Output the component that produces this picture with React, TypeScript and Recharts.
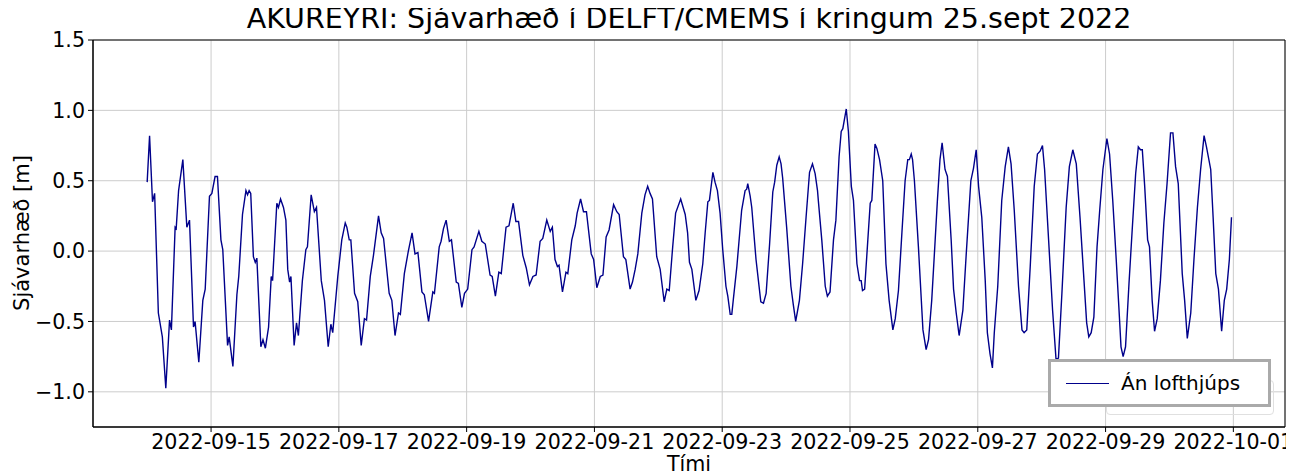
import React from 'react';
import { LineChart, Line, CartesianGrid, XAxis, YAxis, ReferenceArea } from 'recharts';

// hours since 2022-09-14 00:00 UTC
const hours = [
  0, 0.9, 2, 2.8, 4.2, 5.7, 7, 8.4, 9.1, 10.5, 10.9, 11.8, 13.4, 14.9, 15.9, 17.4, 18, 19.4, 20.9, 21.8,
  23.4, 24.3, 25.5, 26.4, 27.7, 28.4, 30.2, 30.8, 32.2, 33.7, 34.4, 35.8, 37.1, 37.7, 38.3, 38.9, 39.9, 40.6, 41.2, 42.7,
  43.5, 44.4, 45.6, 46.6, 47.1, 48.7, 49.3, 50.1, 51.2, 52.1, 52.8, 53.5, 54, 55.2, 56.1, 56.8, 58.3, 59.6, 60.2, 61.6,
  62.8, 63.6, 65.4, 66.6, 68, 69, 69.7, 71.6, 73.1, 74.4, 75, 75.9, 76.5, 77.9, 79.1, 80.4, 81.6, 82.4, 83.8, 85,
  86.9, 87.9, 88.8, 90.9, 91.9, 93.1, 94.4, 95.1, 96.6, 98.1, 99.5, 100.6, 101.7, 103.2, 104.1, 105.7, 107.3, 107.9, 109.7, 110.4,
  111.3, 112.3, 113.5, 114.3, 116.1, 116.9, 118.2, 119.2, 120.4, 122, 122.8, 124.6, 125.7, 127, 128.8, 129.6, 130.8, 132.1, 133, 134.8,
  135.9, 137.5, 138.5, 139.5, 141.1, 142.4, 143.6, 144.9, 146.1, 147.6, 148.6, 150.1, 151.4, 152.2, 153.2, 154.1, 154.7, 156, 157.3, 158,
  159.5, 160.8, 161.5, 162.8, 163.9, 165, 166.8, 167.7, 168.9, 170.2, 171.2, 172.4, 173.5, 175.2, 176.4, 177.3, 178.9, 179.8, 181.4, 182.3,
  183.3, 184.3, 185.8, 187, 188, 188.9, 189.8, 191.4, 192.7, 194.2, 195.2, 196.1, 197.4, 198.5, 200.4, 202.1, 203, 203.7, 204.6, 206.1,
  207.3, 208.7, 209.6, 210.6, 211.2, 212.5, 213.3, 214.2, 215.2, 216.2, 217.4, 218.1, 219, 219.6, 220.2, 221.5, 223.3, 224.6, 225.2, 225.6,
  226.5, 227.1, 228.7, 229.6, 230.5, 231.5, 232.5, 233.8, 235, 235.7, 236.5, 237.4, 238.1, 238.7, 240.2, 241.8, 242.7, 243.6, 245, 246.2,
  247.5, 248.8, 249.9, 250.9, 251.8, 252.1, 253.4, 254.7, 255.5, 256.5, 257.8, 258.7, 259.9, 260.7, 261.3, 262.6, 263.4, 264.5, 265.3, 266.6,
  267.6, 268.2, 268.7, 269.5, 270.7, 271.6, 272.2, 273.4, 274.1, 275.1, 276.3, 277.5, 278.7, 280.1, 281, 282.2, 283.5, 284.7, 285.7, 286.3,
  287, 287.5, 288.2, 289.7, 291.4, 292.6, 293.5, 294.7, 296, 296.8, 297.8, 298.6, 299.7, 300.6, 302, 302.9, 303.9, 305, 306.4, 307.6,
  309.4, 310.4, 311.4, 312.3, 313.5, 314.8, 315.6, 316.6, 317.5, 318.2, 319.5, 321, 322.3, 323.5, 324.5, 325.7, 327.3, 328.6, 329.4, 330.4,
  331.7, 333.2, 334.4, 335.4, 336.3, 337.1, 338.6, 340.1, 341.4, 342.3, 343.6, 345.2, 346.4, 347.7, 349, 350.4, 351.9, 352.9, 353.7, 354.6,
  355.6, 356.8, 357.8, 359, 360.5, 361.5, 362.7, 364, 365, 365.8, 366.6, 367.5, 368.8, 370, 371.3, 372.3, 373.1, 373.8, 374.7, 375.8,
  376.5, 377.5, 378.4, 379.4, 380.6, 381.9, 383.1, 384.4, 385.3, 386.3, 387.3, 388.8, 389.7, 390.7, 392, 393.2, 394.5, 395.7, 397, 397.9,
  399.5, 400.4, 401.4, 402.4, 403.6, 404.6, 405.5, 406.5, 407.3,
];

// sea level [m]
const level = [
  0.49, 0.82, 0.35, 0.41, -0.44, -0.61, -0.975, -0.49, -0.56, 0.17, 0.16, 0.43, 0.65, 0.17, 0.22, -0.54, -0.5, -0.79, -0.35, -0.27,
  0.39, 0.41, 0.53, 0.53, 0.08, 0.01, -0.67, -0.61, -0.82, -0.31, -0.18, 0.26, 0.43, 0.4, 0.43, 0.41, -0.04, -0.08, -0.05, -0.68,
  -0.63, -0.69, -0.54, -0.18, -0.21, 0.34, 0.31, 0.37, 0.31, 0.22, -0.13, -0.22, -0.18, -0.67, -0.51, -0.6, -0.21, 0.01, 0.03, 0.4,
  0.28, 0.31, -0.21, -0.35, -0.68, -0.52, -0.58, -0.18, 0.08, 0.2, 0.17, 0.08, 0.08, -0.3, -0.36, -0.67, -0.48, -0.49, -0.18, -0.03,
  0.25, 0.13, 0.09, -0.3, -0.35, -0.6, -0.44, -0.45, -0.16, 0.0, 0.13, -0.02, -0.01, -0.29, -0.31, -0.5, -0.29, -0.3, 0.03, 0.07,
  0.16, 0.22, 0.07, 0.08, -0.22, -0.23, -0.4, -0.3, -0.27, 0.01, 0.03, 0.14, 0.07, 0.05, -0.17, -0.18, -0.32, -0.15, -0.16, 0.17,
  0.18, 0.34, 0.21, 0.21, -0.03, -0.12, -0.24, -0.18, -0.17, 0.07, 0.09, 0.22, 0.14, 0.17, -0.06, -0.11, -0.1, -0.29, -0.15, -0.16,
  0.08, 0.18, 0.27, 0.37, 0.28, 0.28, -0.02, -0.06, -0.26, -0.18, -0.17, 0.1, 0.15, 0.33, 0.28, 0.26, -0.04, -0.06, -0.27, -0.22,
  -0.13, -0.02, 0.27, 0.4, 0.46, 0.41, 0.37, -0.04, -0.13, -0.36, -0.27, -0.28, 0.03, 0.27, 0.37, 0.26, 0.13, -0.08, -0.13, -0.35,
  -0.28, -0.09, 0.13, 0.35, 0.36, 0.56, 0.49, 0.43, 0.27, 0.01, -0.25, -0.32, -0.45, -0.45, -0.34, -0.11, 0.29, 0.43, 0.44, 0.48,
  0.39, 0.31, -0.06, -0.21, -0.36, -0.37, -0.3, 0.05, 0.42, 0.49, 0.61, 0.67, 0.62, 0.52, 0.17, -0.25, -0.38, -0.5, -0.35, -0.09,
  0.24, 0.56, 0.62, 0.55, 0.43, 0.36, 0.08, -0.25, -0.32, -0.29, 0.08, 0.22, 0.67, 0.85, 0.87, 1.01, 0.85, 0.46, 0.36, -0.09,
  -0.21, -0.21, -0.28, -0.27, 0.08, 0.34, 0.36, 0.76, 0.73, 0.65, 0.5, -0.09, -0.35, -0.56, -0.48, -0.28, 0.13, 0.5, 0.65, 0.65,
  0.69, 0.65, 0.5, 0.03, -0.56, -0.7, -0.63, -0.35, 0.08, 0.35, 0.65, 0.77, 0.58, 0.53, 0.08, -0.27, -0.44, -0.6, -0.42, -0.04,
  0.5, 0.59, 0.72, 0.46, 0.24, -0.21, -0.58, -0.73, -0.83, -0.58, -0.25, 0.36, 0.6, 0.74, 0.62, 0.29, -0.25, -0.56, -0.58, -0.56,
  -0.11, 0.46, 0.69, 0.71, 0.75, 0.58, 0.08, -0.42, -0.77, -0.76, -0.3, 0.31, 0.6, 0.72, 0.62, 0.24, -0.21, -0.51, -0.61, -0.58,
  -0.47, 0.03, 0.29, 0.58, 0.8, 0.69, 0.36, -0.06, -0.4, -0.68, -0.75, -0.68, -0.23, 0.15, 0.55, 0.74, 0.72, 0.72, 0.46, 0.08,
  0.03, -0.35, -0.57, -0.48, -0.21, 0.2, 0.48, 0.84, 0.84, 0.6, 0.48, -0.16, -0.35, -0.62, -0.44, -0.06, 0.31, 0.58, 0.82, 0.74,
  0.58, 0.24, -0.16, -0.27, -0.57, -0.35, -0.27, -0.06, 0.24,
];

const xTicks = [24, 72, 120, 168, 216, 264, 312, 360, 408];
const yTicks = [-1, -0.5, 0, 0.5, 1, 1.5];

const data = hours.map((t, i) => ({ t, v: level[i] }));

const START = Date.UTC(2022, 8, 14);
const dateFormatter = (h: number) => new Date(START + h * 3600000).toISOString().slice(0, 10);
const numFormatter = (v: number) => v.toFixed(1).replace('-', '\u2212');

const font = '"DejaVu Sans", sans-serif';
const tickStyle = { fontSize: 20.6, fill: '#000', fontFamily: font };

export default function App() {
  return (
    <div style={{ position: 'relative', width: 1286, height: 466, fontFamily: font }}>
      <div style={{ position: 'absolute', left: 85, width: 1192, top: -5, textAlign: 'center', fontSize: 28.5, color: '#000', lineHeight: 1.15 }}>
        AKUREYRI: Sjávarhæð í DELFT/CMEMS í kringum 25.sept 2022
      </div>
      <LineChart width={1286} height={466} data={data} margin={{ top: 32, right: 9, left: 0, bottom: 0 }}>
        <CartesianGrid stroke="#cccccc" strokeWidth={1} />
        <XAxis
          dataKey="t"
          type="number"
          domain={[-20.35, 427.4]}
          ticks={xTicks}
          tickFormatter={dateFormatter}
          tick={tickStyle}
          tickSize={5}
          tickMargin={2}
          height={47}
          stroke="#000"
          allowDataOverflow
        />
        <YAxis
          type="number"
          domain={[-1.25, 1.5]}
          ticks={yTicks}
          tickFormatter={numFormatter}
          tick={tickStyle}
          tickSize={5}
          tickMargin={3}
          width={85}
          stroke="#000"
          allowDataOverflow
        />
        <ReferenceArea x1={-20.35} x2={427.4} y1={-1.25} y2={1.5} fill="none" stroke="#000" strokeWidth={1} strokeOpacity={1} fillOpacity={0} />
        <Line type="linear" dataKey="v" stroke="#00008B" strokeWidth={1.4} dot={false} isAnimationActive={false} />
      </LineChart>
      <div
        style={{
          position: 'absolute', left: 14, top: 225, transform: 'translate(-50%, -50%) rotate(-90deg)',
          fontSize: 21, whiteSpace: 'nowrap', color: '#000', lineHeight: 1,
        }}
      >
        Sjávarhæð [m]
      </div>
      <div style={{ position: 'absolute', left: 85, width: 1192, top: 447, textAlign: 'center', fontSize: 20.6, color: '#000', lineHeight: 0.9 }}>
        Tími
      </div>
      <div
        style={{
          position: 'absolute', left: 1098, top: 372, width: 168, height: 35,
          border: '1px solid #e0e0e0', borderRadius: 4, boxSizing: 'border-box',
        }}
      />
      <div
        style={{
          position: 'absolute', left: 1040, top: 351, width: 223, height: 48, boxSizing: 'border-box',
          border: '3px solid #aaaaaa', background: '#fff', display: 'flex', alignItems: 'center',
        }}
      >
        <div style={{ width: 43, height: 0, borderTop: '1.3px solid #00008B', marginLeft: 15, marginRight: 12 }} />
        <span style={{ fontSize: 20, color: '#000' }}>Án lofthjúps</span>
      </div>
    </div>
  );
}
